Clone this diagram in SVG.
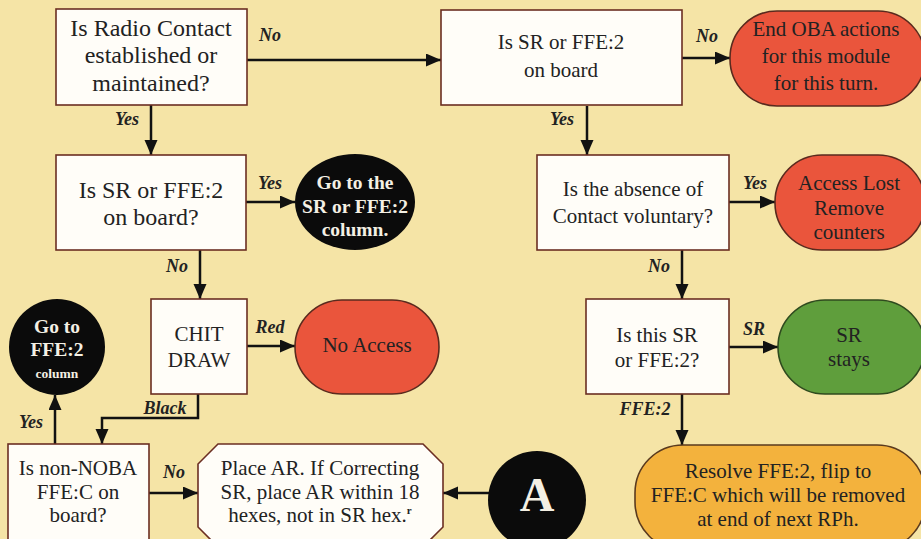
<svg xmlns="http://www.w3.org/2000/svg" width="921" height="539" viewBox="0 0 921 539">
<defs>
<marker id="ah" markerUnits="userSpaceOnUse" markerWidth="16" markerHeight="14" refX="15" refY="6.5" orient="auto">
<path d="M0,0 L15,6.5 L0,13 z" fill="#111"/>
</marker>
<style>
.box{fill:#fffdf8;stroke:#6b2e22;stroke-width:1.6}
.red{fill:#ea553c;stroke:#5a2a1e;stroke-width:1.6}
.green{fill:#5f9e3c;stroke:#2f4a1e;stroke-width:1.6}
.orange{fill:#f3b23d;stroke:#5a3a1e;stroke-width:1.6}
.blk{fill:#0b0b0b}
.t{font-family:"Liberation Serif","Times New Roman",serif;font-size:21px;fill:#222;text-anchor:middle}
.big{font-size:24px}
.tw{font-family:"Liberation Serif","Times New Roman",serif;font-size:19.5px;font-weight:bold;fill:#f4f0e4;text-anchor:middle}
.lb{font-family:"Liberation Serif","Times New Roman",serif;font-size:18px;font-weight:bold;font-style:italic;fill:#222;text-anchor:middle}
.c{fill:none;stroke:#111;stroke-width:2.5;marker-end:url(#ah)}
</style>
</defs>
<rect x="0" y="0" width="921" height="539" fill="#f5e4a6"/>

<g id="connectors">
<path class="c" d="M247,60 H441"/>
<path class="c" d="M151,105 V155"/>
<path class="c" d="M246,202 H295"/>
<path class="c" d="M200,250 V299"/>
<path class="c" d="M247,346 H295"/>
<path class="c" d="M198,394 V418 H102 V444"/>
<path class="c" d="M55,444 V395"/>
<path class="c" d="M149,493 H198"/>
<path class="c" d="M490,493 H443"/>
<path class="c" d="M682,58 H730"/>
<path class="c" d="M587,106 V155"/>
<path class="c" d="M729,202 H775"/>
<path class="c" d="M682,250 V299"/>
<path class="c" d="M729,347 H778"/>
<path class="c" d="M682,394 V445"/>
<text class="lb" x="270" y="41">No</text>
<text class="lb" x="127" y="125">Yes</text>
<text class="lb" x="270" y="189">Yes</text>
<text class="lb" x="177" y="272">No</text>
<text class="lb" x="270" y="333">Red</text>
<text class="lb" x="165" y="414">Black</text>
<text class="lb" x="31" y="428">Yes</text>
<text class="lb" x="174" y="478">No</text>
<text class="lb" x="707" y="42">No</text>
<text class="lb" x="562" y="125">Yes</text>
<text class="lb" x="755" y="189">Yes</text>
<text class="lb" x="659" y="272">No</text>
<text class="lb" x="754" y="335">SR</text>
<text class="lb" x="645" y="415">FFE:2</text>
</g>

<g id="radio">
<rect class="box" x="56" y="9" width="191" height="96"/>
<text class="t big" x="151" y="36">Is Radio Contact</text>
<text class="t big" x="151" y="63">established or</text>
<text class="t big" x="151" y="91">maintained?</text>
</g>

<g id="srboard-left">
<rect class="box" x="56" y="155" width="190" height="95"/>
<text class="t big" x="151" y="198">Is SR or FFE:2</text>
<text class="t big" x="151" y="225">on board?</text>
</g>

<g id="goto-sr">
<ellipse class="blk" cx="355" cy="202" rx="60" ry="48"/>
<text class="tw" x="355" y="189">Go to the</text>
<text class="tw" x="355" y="213">SR or FFE:2</text>
<text class="tw" x="355" y="236">column.</text>
</g>

<g id="chit">
<rect class="box" x="151" y="299" width="96" height="95"/>
<text class="t" x="199" y="341">CHIT</text>
<text class="t" x="199" y="367">DRAW</text>
</g>

<g id="noaccess">
<rect class="red" x="295" y="300" width="144" height="94" rx="47"/>
<text class="t" x="367" y="352">No Access</text>
</g>

<g id="goto-ffe">
<ellipse class="blk" cx="57" cy="347" rx="48" ry="48"/>
<text class="tw" x="57" y="333">Go to</text>
<text class="tw" x="57" y="356">FFE:2</text>
<text class="tw" x="57" y="378" style="font-size:13.5px">column</text>
</g>

<g id="nonnoba">
<rect class="box" x="8" y="444" width="141" height="101"/>
<text class="t" x="78" y="475">Is non-NOBA</text>
<text class="t" x="78" y="499">FFE:C on</text>
<text class="t" x="78" y="522">board?</text>
</g>

<g id="placear">
<polygon class="box" points="218,444 423,444 443,464 443,527 425,545 216,545 198,527 198,464"/>
<text class="t" x="320" y="475">Place AR. If Correcting</text>
<text class="t" x="320" y="499">SR, place AR within 18</text>
<text class="t" x="320" y="522">hexes, not in SR hex.<tspan style="font-size:11px;font-weight:bold" dy="-8">r</tspan></text>
</g>

<g id="a">
<circle class="blk" cx="537" cy="500" r="49"/>
<text x="537" y="511" style="font-family:'Liberation Serif','Times New Roman',serif;font-size:48px;font-weight:bold;fill:#f4f0e4;text-anchor:middle">A</text>
</g>

<g id="srboard-right">
<rect class="box" x="441" y="10" width="241" height="95"/>
<text class="t" x="561" y="49">Is SR or FFE:2</text>
<text class="t" x="561" y="77">on board</text>
</g>

<g id="endoba">
<rect class="red" x="730" y="11" width="195" height="95" rx="47"/>
<text class="t" x="826" y="36">End OBA actions</text>
<text class="t" x="826" y="63">for this module</text>
<text class="t" x="826" y="90">for this turn.</text>
</g>

<g id="absence">
<rect class="box" x="537" y="155" width="192" height="95"/>
<text class="t" x="633" y="196">Is the absence of</text>
<text class="t" x="633" y="223">Contact voluntary?</text>
</g>

<g id="accesslost">
<rect class="red" x="775" y="155" width="150" height="95" rx="47"/>
<text class="t" x="849" y="190">Access Lost</text>
<text class="t" x="849" y="215">Remove</text>
<text class="t" x="849" y="239">counters</text>
</g>

<g id="isthis">
<rect class="box" x="586" y="299" width="143" height="95"/>
<text class="t" x="657" y="342">Is this SR</text>
<text class="t" x="657" y="367">or FFE:2?</text>
</g>

<g id="srstays">
<rect class="green" x="778" y="300" width="147" height="94" rx="47"/>
<text class="t" x="849" y="342">SR</text>
<text class="t" x="849" y="366">stays</text>
</g>

<g id="resolve">
<rect class="orange" x="635" y="445" width="290" height="105" rx="48"/>
<text class="t" x="778" y="478">Resolve FFE:2, flip to</text>
<text class="t" x="778" y="502">FFE:C which will be removed</text>
<text class="t" x="778" y="526">at end of next RPh.</text>
</g>
</svg>
